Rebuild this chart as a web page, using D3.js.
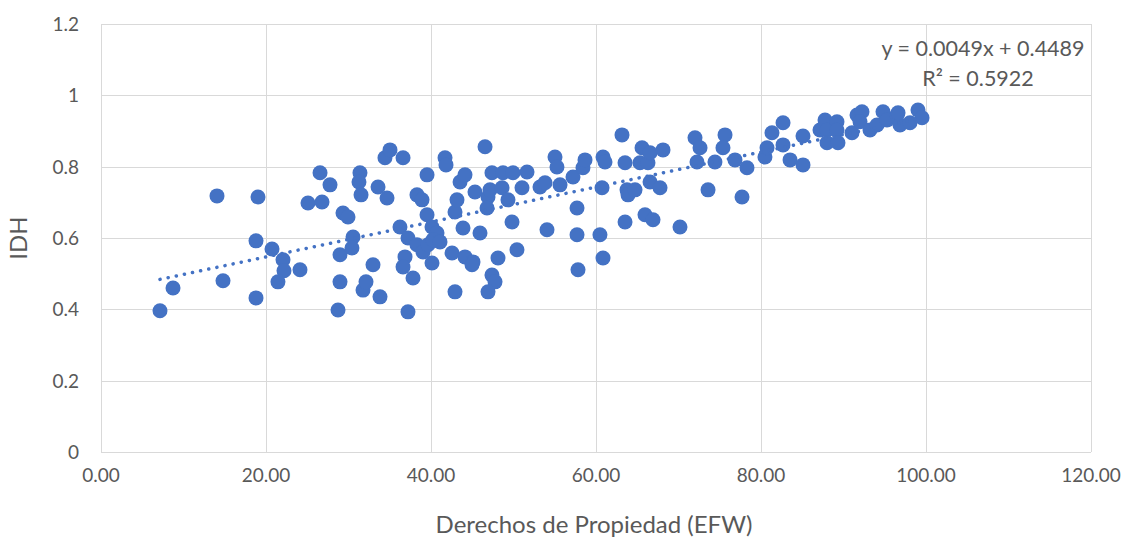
<!DOCTYPE html>
<html lang="es">
<head>
  <meta charset="utf-8" />
  <title>IDH vs Derechos de Propiedad</title>
  <script src="https://d3js.org/d3.v7.min.js"></script>
  <style>
    html, body { margin: 0; padding: 0; background: #ffffff; }
    svg { display: block; font-family: Lato, "Noto Sans", sans-serif; }
    .grid line { stroke: #d9d9d9; stroke-width: 1; }
    .tick-label { fill: #595959; font-size: 19px; }
    .axis-title { fill: #595959; font-size: 24px; }
    .trend-label { fill: #595959; font-size: 21.5px; }
  </style>
</head>
<body>
  <svg id="chart" width="1121" height="539"></svg>
  <script>
    // Derechos de Propiedad (EFW)
    const efw = [
      7.15, 8.73, 14.06, 14.79, 18.79, 19.03, 18.79, 20.73, 22.06, 22.18,
      21.45, 24.12, 25.09, 26.79, 26.55, 27.76, 28.73, 28.97, 28.97, 29.33,
      29.94, 30.55, 30.42, 31.39, 31.27, 31.52, 31.76, 32.12, 32.97, 33.58,
      33.82, 34.67, 34.42, 35.03, 36.24, 36.61, 36.85, 36.61, 37.21, 37.21,
      38.30, 37.82, 38.30, 38.91, 39.03, 39.64, 39.52, 39.52, 40.12, 40.73,
      40.24, 40.12, 41.09, 41.70, 41.82, 42.55, 42.91, 43.15, 42.91, 43.52,
      44.12, 43.88, 44.12, 45.09, 44.97, 45.33, 45.94, 46.55, 46.91, 47.15,
      46.79, 47.39, 47.39, 47.76, 46.91, 48.12, 48.73, 48.61, 49.33, 49.82,
      49.94, 50.42, 51.03, 51.64, 53.21, 53.82, 54.06, 55.03, 55.27, 55.64,
      57.21, 57.70, 57.70, 57.82, 58.42, 58.67, 60.48, 60.73, 60.85, 61.09,
      60.85, 63.15, 63.52, 63.52, 63.76, 63.88, 64.73, 65.33, 65.58, 65.94,
      66.30, 66.55, 66.55, 66.91, 67.76, 68.12, 70.18, 72.00, 72.24, 72.61,
      73.58, 74.42, 75.64, 75.39, 76.85, 77.70, 78.30, 80.48, 80.73, 81.33,
      82.67, 82.67, 83.52, 85.09, 85.09, 87.15, 87.76, 88.00, 88.00, 89.21,
      89.21, 89.33, 91.03, 91.64, 92.24, 92.00, 93.21, 94.06, 94.79, 95.27,
      96.48, 96.85, 98.06, 99.03, 99.52, 96.61
    ];
    // IDH, same order
    const idh = [
      0.396, 0.460, 0.718, 0.480, 0.592, 0.715, 0.432, 0.569, 0.539, 0.508,
      0.477, 0.511, 0.698, 0.701, 0.783, 0.749, 0.398, 0.553, 0.477, 0.670,
      0.659, 0.603, 0.572, 0.783, 0.757, 0.721, 0.454, 0.477, 0.525, 0.743,
      0.435, 0.712, 0.825, 0.847, 0.631, 0.825, 0.547, 0.519, 0.600, 0.393,
      0.581, 0.488, 0.721, 0.707, 0.561, 0.581, 0.777, 0.665, 0.631, 0.614,
      0.595, 0.530, 0.589, 0.825, 0.805, 0.558, 0.673, 0.707, 0.449, 0.757,
      0.777, 0.628, 0.547, 0.533, 0.525, 0.729, 0.614, 0.856, 0.715, 0.735,
      0.684, 0.783, 0.496, 0.477, 0.449, 0.544, 0.783, 0.741, 0.707, 0.645,
      0.783, 0.567, 0.741, 0.785, 0.743, 0.755, 0.623, 0.827, 0.799, 0.749,
      0.771, 0.684, 0.609, 0.511, 0.797, 0.819, 0.609, 0.741, 0.827, 0.813,
      0.544, 0.889, 0.811, 0.645, 0.735, 0.721, 0.735, 0.811, 0.853, 0.665,
      0.811, 0.839, 0.757, 0.651, 0.741, 0.847, 0.631, 0.881, 0.813, 0.853,
      0.735, 0.813, 0.889, 0.853, 0.819, 0.715, 0.797, 0.827, 0.853, 0.895,
      0.923, 0.861, 0.819, 0.886, 0.805, 0.903, 0.931, 0.903, 0.867, 0.926,
      0.903, 0.867, 0.895, 0.945, 0.954, 0.926, 0.903, 0.917, 0.954, 0.931,
      0.945, 0.917, 0.923, 0.959, 0.937, 0.951
    ];

    const xTicks = [0, 20, 40, 60, 80, 100, 120];
    const yTicks = [0, 0.2, 0.4, 0.6, 0.8, 1, 1.2];
    const slope = 0.0049, intercept = 0.4489;
    const eqText = "y = 0.0049x + 0.4489";
    const r2Text = "R² = 0.5922";

    const svg = d3.select("#chart");
    const m = { left: 101, right: 1091, top: 24, bottom: 452 };

    const x = d3.scaleLinear().domain([0, 120]).range([m.left, m.right]);
    const y = d3.scaleLinear().domain([0, 1.2]).range([m.bottom, m.top]);

    // gridlines
    const grid = svg.append("g").attr("class", "grid");
    grid.selectAll("line.h").data(yTicks).join("line")
      .attr("class", "h")
      .attr("x1", m.left).attr("x2", m.right)
      .attr("y1", d => Math.round(y(d)) + 0.5).attr("y2", d => Math.round(y(d)) + 0.5);
    grid.selectAll("line.v").data(xTicks).join("line")
      .attr("class", "v")
      .attr("y1", m.top).attr("y2", m.bottom)
      .attr("x1", d => Math.round(x(d)) + 0.5).attr("x2", d => Math.round(x(d)) + 0.5);

    // tick labels
    svg.append("g").selectAll("text").data(yTicks).join("text")
      .attr("class", "tick-label")
      .attr("x", 79).attr("y", d => y(d)).attr("dy", "0.36em")
      .attr("text-anchor", "end")
      .text(d => d3.format("")(d));
    svg.append("g").selectAll("text").data(xTicks).join("text")
      .attr("class", "tick-label")
      .attr("x", d => x(d)).attr("y", 482)
      .attr("text-anchor", "middle")
      .text(d => d.toFixed(2));

    // axis titles
    svg.append("text").attr("class", "axis-title")
      .attr("x", 594).attr("y", 533).attr("text-anchor", "middle")
      .text("Derechos de Propiedad (EFW)");
    svg.append("text").attr("class", "axis-title")
      .attr("transform", "translate(27," + y(0.6) + ") rotate(-90)")
      .attr("text-anchor", "middle")
      .text("IDH");

    // points
    const pts = efw.map((v, i) => ({ x: v, y: idh[i] }));
    svg.append("g").selectAll("circle").data(pts).join("circle")
      .attr("cx", d => x(d.x)).attr("cy", d => y(d.y))
      .attr("r", 7.5)
      .attr("fill", "#4472c4");

    // linear trendline
    const x0 = d3.min(efw), x1 = d3.max(efw);
    svg.append("line")
      .attr("x1", x(x0)).attr("y1", y(slope * x0 + intercept))
      .attr("x2", x(x1)).attr("y2", y(slope * x1 + intercept))
      .attr("stroke", "#4472c4").attr("stroke-width", 3.5)
      .attr("stroke-linecap", "round").attr("stroke-dasharray", "0.1 8.2");

    svg.append("text").attr("class", "trend-label")
      .attr("x", 983).attr("y", 56).attr("text-anchor", "middle").text(eqText);
    svg.append("text").attr("class", "trend-label")
      .attr("x", 978).attr("y", 86).attr("text-anchor", "middle").text(r2Text);
  </script>
</body>
</html>
